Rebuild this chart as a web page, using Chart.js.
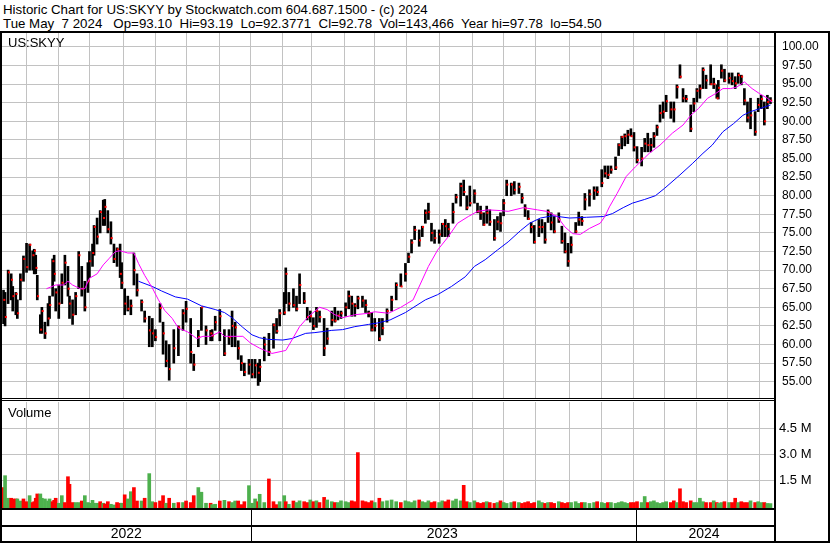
<!DOCTYPE html>
<html><head><meta charset="utf-8">
<script src="https://cdn.jsdelivr.net/npm/chart.js@4.4.1/dist/chart.umd.min.js"></script>
<style>
html,body{margin:0;padding:0;background:#fff;}
body{width:830px;height:543px;position:relative;overflow:hidden;font-family:"Liberation Sans",Arial,sans-serif;}
.hdr{position:absolute;left:3px;font-size:13.3px;color:#000;white-space:pre;line-height:14px;}
.ln{position:absolute;background:#000;}
.tag{position:absolute;font-size:13px;color:#000;white-space:pre;}
.wrap{position:absolute;left:0;width:830px;}
</style></head><body>
<div class="hdr" style="top:3px">Historic Chart for US:SKYY by Stockwatch.com 604.687.1500 - (c) 2024</div>
<div class="hdr" style="top:17px">Tue May  7 2024   Op=93.10  Hi=93.19  Lo=92.3771  Cl=92.78  Vol=143,466  Year hi=97.78  lo=54.50</div>
<div class="wrap" style="top:33px;height:365px"><canvas id="pc"></canvas></div>
<div class="wrap" style="top:402px;height:141px"><canvas id="vc"></canvas></div>
<div class="tag" style="left:8px;top:35px">US:SKYY</div>
<div class="tag" style="left:8px;top:405px">Volume</div>
<div class="ln" style="left:0;top:31px;width:830px;height:2px"></div>
<div class="ln" style="left:0;top:31px;width:2px;height:512px"></div>
<div class="ln" style="left:774px;top:31px;width:2px;height:512px"></div>
<div class="ln" style="left:828px;top:31px;width:2px;height:512px"></div>
<div class="ln" style="left:0;top:398px;width:776px;height:1px"></div>
<div class="ln" style="left:0;top:400px;width:776px;height:1px"></div>
<div class="ln" style="left:0;top:508px;width:776px;height:2px"></div>
<div class="ln" style="left:0;top:525px;width:776px;height:2px"></div>
<div class="ln" style="left:0;top:541px;width:830px;height:2px"></div>
<div class="ln" style="left:251px;top:510px;width:1px;height:31px"></div>
<div class="ln" style="left:636px;top:510px;width:1px;height:31px"></div>
<script>
// ---- data (x = trading-day number from chart start) ----
const days = [1,2,4,6,7,9,10,12,14,16,18,20,21,22,23,25,26,28,30,31,33,34,35,37,39,41,43,44,46,48,50,52,54,56,57,59,60,62,64,66,67,69,71,73,75,77,78,80,82,84,86,88,91,93,96,98,100,103,105,107,109,112,115,118,120,123,125,128,130,133,136,137,139,142,145,148,150,152,154,156,158,161,163,165,167,168,171,174,177,179,181,184,185,187,190,192,194,197,199,201,203,205,207,210,212,215,217,219,221,224,226,228,230,232,235,237,239,241,243,246,248,251,254,257,260,263,265,267,269,272,274,276,278,280,282,285,287,289,291,294,296,299,301,303,305,308,310,312,314,316,318,321,323,325,327,329,332,334,337,339,341,343,345,347,350,352,354,356,358,360,363,365,367,369,371,374,376,378,380,383,386,388,391,393,395,397,400,402,404,406,408,410,412,414,417,419,421,423,425,427,429,431,433,436,438,440,442,444,446,449,451,453,455,457,459,462,464,466,467,469,471,474,476,478,480,482,484,486,488,491,493,495,497,499,501];
const highs = [67.3,67.0,70.0,69.5,67.8,67.0,66.0,69.5,71.9,73.6,73.5,72.6,72.8,72.0,69.3,64.0,65.0,63.0,65.5,66.5,71.5,72.0,67.5,68.0,69.5,72.0,70.5,66.5,66.0,67.0,72.5,70.5,68.5,71.0,72.5,73.5,76.0,77.0,78.0,79.4,79.5,78.0,76.5,73.5,73.0,73.5,71.0,67.5,66.5,66.0,72.3,69.5,66.0,64.5,63.8,63.5,62.0,65.5,63.0,60.5,60.0,62.0,62.5,64.7,65.8,63.5,58.7,61.9,65.0,62.5,61.9,62.0,63.8,64.7,62.0,62.0,64.5,63.0,60.5,58.5,57.5,58.0,58.0,58.0,57.5,58.0,61.0,61.5,62.8,63.5,64.7,67.0,70.3,67.0,67.5,66.5,69.5,67.0,65.0,64.5,63.6,65.0,64.5,63.5,62.2,64.5,65.0,64.5,64.5,65.6,67.2,66.5,65.5,66.5,66.5,66.0,64.5,64.3,63.5,63.5,63.5,64.8,66.5,68.3,69.5,70.9,72.3,74.1,75.9,75.4,75.9,78.1,79.0,76.3,75.4,75.4,76.3,76.8,76.3,79.0,80.2,81.7,82.1,80.0,81.3,80.8,79.0,78.6,77.7,78.6,78.1,76.8,77.2,77.7,79.5,82.1,81.7,81.9,81.7,80.3,78.8,78.0,76.4,76.0,76.8,76.8,76.4,78.1,77.7,77.2,77.7,75.9,75.0,73.6,74.5,76.4,77.8,77.2,80.3,80.8,81.2,81.2,83.5,84.0,84.0,84.0,85.2,87.0,88.0,88.3,88.8,89.0,88.5,86.6,86.5,87.7,88.4,87.7,88.5,89.5,92.2,92.6,93.5,92.6,92.6,94.9,97.6,94.4,93.5,92.2,93.1,94.4,94.9,97.2,96.2,97.6,95.8,94.9,95.5,97.6,97.0,96.5,96.5,96.0,96.5,96.2,94.4,92.6,93.1,91.3,93.1,93.5,92.6,93.5,93.19];
const lows = [62.8,62.5,65.5,66.0,64.5,64.0,63.5,66.0,68.5,69.7,70.0,70.0,69.5,69.5,66.0,61.5,61.5,60.8,62.5,63.5,66.5,68.5,64.5,63.5,65.5,68.0,66.5,63.5,62.7,64.0,67.5,66.5,64.5,67.0,69.0,70.5,72.0,73.5,75.0,76.0,76.0,75.0,73.5,71.0,70.5,69.0,67.5,64.0,64.5,64.0,68.0,66.5,64.5,63.0,59.7,59.7,60.5,63.0,58.7,57.0,55.2,57.5,58.5,61.9,63.0,57.5,56.5,59.7,61.9,60.0,60.5,60.5,61.9,60.5,58.5,60.0,59.7,59.7,58.0,56.5,55.8,56.0,55.5,55.5,54.5,55.0,57.8,58.5,59.5,61.5,62.5,64.0,65.5,64.5,65.0,64.5,65.5,65.5,63.3,63.0,62.0,62.3,63.0,58.5,60.0,62.5,63.0,63.3,63.5,63.8,64.8,63.8,63.8,64.8,65.0,64.3,63.7,61.8,61.8,60.5,61.3,63.0,64.5,66.0,67.8,68.5,71.0,72.3,74.1,73.2,74.5,76.3,76.8,73.9,73.6,73.6,74.5,74.5,74.5,76.3,79.0,78.6,80.0,78.1,78.6,79.0,77.7,76.8,76.0,76.3,76.0,74.0,75.4,75.2,77.3,80.0,80.0,80.2,80.3,79.0,77.2,76.8,75.0,73.6,74.5,75.0,73.6,76.4,75.4,75.0,76.4,73.6,72.3,70.5,72.3,75.0,76.0,76.0,78.1,78.6,79.5,80.0,81.2,82.5,82.3,83.0,83.5,85.4,86.3,86.7,87.0,88.0,86.0,84.4,84.0,85.9,85.9,85.9,86.5,88.1,89.9,90.4,91.3,90.4,89.9,93.1,95.8,92.6,92.6,88.6,91.3,92.6,93.1,94.4,94.4,94.9,94.4,93.1,93.0,95.8,95.3,95.1,94.9,94.4,95.1,94.9,92.2,89.9,89.0,88.1,91.3,91.7,89.5,91.7,92.38];
const closes = [66.0,63.7,69.7,68.7,66.5,66.8,64.2,68.7,71.5,70.4,73.4,72.0,72.6,70.3,66.5,62.0,64.5,61.5,63.5,65.3,71.2,69.5,67.0,65.5,68.3,71.0,67.5,65.5,64.0,66.5,72.0,67.5,65.0,68.5,71.2,72.3,75.8,74.5,77.8,77.0,78.5,75.5,74.3,71.5,72.8,69.5,68.3,65.5,64.8,65.2,70.0,67.3,65.7,63.5,61.9,61.5,61.0,64.9,61.5,57.8,56.7,59.5,62.3,64.2,64.8,59.0,57.3,61.0,65.0,61.9,61.5,61.2,63.0,63.8,58.8,61.0,62.5,62.3,59.5,57.5,56.3,57.3,56.0,57.2,56.2,57.0,60.0,59.0,62.6,61.8,64.2,64.3,69.5,65.5,65.3,64.8,68.0,65.8,63.7,63.8,62.5,64.5,63.7,59.5,60.8,63.3,63.2,63.9,64.2,65.0,66.5,65.5,65.2,66.2,65.9,65.3,64.2,62.0,62.5,60.8,62.2,64.5,66.0,68.0,67.8,69.5,71.8,73.7,75.4,74.0,75.8,77.7,77.8,75.0,74.3,74.8,76.2,75.9,75.5,77.8,79.8,81.3,80.5,78.4,79.0,80.3,77.9,77.7,76.1,77.7,76.5,74.3,76.5,76.3,79.0,81.5,81.5,80.8,81.2,79.7,78.3,76.9,75.8,73.8,75.8,75.8,74.1,77.8,76.4,75.2,76.8,73.9,72.5,71.2,73.4,75.2,76.8,76.6,79.5,80.2,80.7,80.5,81.7,83.0,82.8,83.5,83.8,86.8,87.9,88.0,88.2,88.0,86.5,84.8,85.0,87.0,86.8,86.8,88.0,89.2,91.1,91.3,92.7,91.6,91.6,94.6,96.0,93.1,93.0,89.0,92.4,94.1,94.4,96.9,95.5,95.0,95.0,93.1,94.5,96.8,95.5,95.8,95.4,95.1,96.2,96.0,92.8,90.5,90.8,88.6,92.2,93.0,90.0,92.6,92.78];
// volume in millions of shares, and its bar colour as read (g = up day, r = down day)
const volumes = [1.07,1.76,0.45,0.45,0.41,0.41,0.41,0.29,0.41,0.25,0.6,0.2,0.25,0.45,0.7,0.7,0.45,0.41,0.29,0.41,0.25,0.33,0.45,0.16,0.6,0.2,1.7,1.26,0.2,0.2,0.2,0.29,0.6,0.2,0.16,0.33,0.16,0.16,0.25,0.16,0.12,0.25,0.1,0.06,0.2,0.16,0.16,0.65,0.41,0.83,1.07,0.29,0.29,0.45,1.88,0.25,0.2,0.29,0.6,0.16,0.45,0.16,0.2,0.2,0.29,0.2,0.6,1.07,0.8,0.16,0.16,0.08,0.1,0.29,0.33,0.25,0.2,0.29,0.29,0.08,0.25,1.18,0.16,0.41,0.25,0.68,0.2,1.57,0.25,0.08,0.25,0.6,0.25,0.1,0.29,0.2,0.3,0.25,0.2,0.35,0.25,0.3,0.2,0.5,0.35,0.25,0.2,0.2,0.3,0.25,0.2,0.3,0.25,3.1,0.3,0.25,0.2,0.3,0.2,0.45,0.25,0.3,0.35,0.25,0.2,0.3,0.25,0.2,0.3,0.35,0.25,0.2,0.3,0.2,0.25,0.2,0.3,0.25,0.35,0.3,0.4,0.3,1.2,0.25,0.2,0.3,0.2,0.15,0.2,0.25,0.2,0.15,0.2,0.3,0.2,0.15,0.2,0.25,0.2,0.15,0.2,0.25,0.15,0.2,0.3,0.2,0.15,0.2,0.2,0.15,0.25,0.2,0.15,0.2,0.2,0.25,0.15,0.2,0.2,0.15,0.2,0.25,0.2,0.15,0.2,0.2,0.15,0.2,0.25,0.2,0.15,0.2,0.2,0.25,0.2,0.55,0.2,0.25,0.3,0.2,0.15,0.2,0.25,0.2,0.3,0.2,1.0,0.25,0.2,0.3,0.2,0.2,0.45,0.25,0.2,0.2,0.3,0.2,0.15,0.2,0.25,0.2,0.2,0.45,0.2,0.25,0.2,0.2,0.3,0.2,0.25,0.2,0.2,0.15,0.14];
const volDir = ('rggrrrggrrgrrrrgggggrrrggrrrrggrggggggrgrrggrrgrggrrgrggrrrgrgrgrrrgggrggrgrggrrrgggrggrrrggrgrg' +
  'grrgrgrrggrggggrrrrrrr' + 'grggggrggg' + 'grgggrrggr' + 'rgggrrggrr' + 'rgrrgrgggr' + 'grrrrrggrg' +
  'rrgrrrgggr' + 'gggrggrggg' + 'gggrrrggrg' + 'gggggrrgrr' + 'rrggggrrgr' + 'ggrgrrgrrr' + 'grggrgg').split('');
// moving averages [day, value]
const maFastDays = [29,35,40,43,46,51,54,57,62,66,70,74,77,82,86,89,93,98,102,106,111,115,121,127,131,136,142,145,157,162,168,176,185,189,194,200,207,212,217,222,230,239,243,252,260,268,278,284,291,297,304,310,317,325,330,340,349,355,362,367,372,377,383,390,393,396,401,407,413,419,422,429,437,444,449,454,460,465,470,475,479,484,489,494,499,502];
const maFastVals = [67.5,68.0,68.0,68.5,68.0,67.5,67.5,68.9,69.5,70.7,71.6,72.5,72.6,72.3,72.3,70.9,69.3,67.6,66.0,64.6,63.5,62.2,61.7,60.8,61.1,61.1,61.7,61.1,61.1,60.2,59.5,58.8,59.2,60.6,62.4,63.8,65.0,64.7,64.0,63.6,64.0,64.2,64.4,64.2,65.0,66.0,70.5,72.7,74.5,76.3,77.2,77.9,78.1,78.0,77.9,78.4,78.1,77.9,77.2,75.8,74.9,74.8,75.6,76.3,77.2,78.5,80.3,82.6,83.9,85.1,85.7,86.8,88.4,89.5,90.8,91.7,93.1,93.7,94.4,94.4,94.6,95.3,94.4,93.7,93.1,92.6];
const maSlowDays = [89,98,104,113,121,130,139,145,150,157,163,168,173,183,189,198,204,215,222,230,239,245,253,263,276,284,293,302,308,315,323,330,338,344,351,359,370,381,392,398,405,411,419,426,432,442,450,457,463,470,477,483,488,494,501];
const maSlowVals = [68.5,67.8,67.2,66.4,66.1,65.2,64.7,64.3,63.6,62.3,61.3,60.9,60.7,60.6,60.8,61.5,61.6,61.9,62.0,62.4,62.7,62.9,63.3,64.3,66.0,66.7,67.8,69.1,70.5,71.4,72.7,73.8,75.3,76.3,77.0,77.3,77.0,77.1,77.2,77.6,78.4,79.0,79.5,80.0,81.0,82.8,84.3,85.7,86.8,88.6,89.7,90.8,91.3,91.7,92.2];
// axes
const priceTicks = [55,57.5,60,62.5,65,67.5,70,72.5,75,77.5,80,82.5,85,87.5,90,92.5,95,97.5,100];
const volTicks = [1.5,3.0,4.5];
const monthStarts = [16,37,57,79,100,120,142,162,183,202,223,243,264,285,307,327,348,370,391,412,432,453,473,494];
const years = ['2022','2023','2024'];
const yearStarts = [0,162,412];
const lastDay = 503.3;

const FONT = "'Liberation Sans', Arial, sans-serif";
Chart.defaults.font.family = FONT;
const GRID = '#c2c2c2';
const DIRCOL = {g:'#4db04d', r:'#ff0000', n:'#a0a0a0'};

function noPadX(h){ return s => { s.height = h; s.paddingLeft = 0; s.paddingRight = 0; }; }
function noPadY(s){ s.width = 56; s.paddingTop = 0; s.paddingBottom = 0; }
// x grid axis: month-start gridlines via the library's own grid
const xOpts = () => ({type:'linear', min:0, max:lastDay, position:'bottom', offset:false,
  afterBuildTicks: s=>{ s.ticks = monthStarts.map(v=>({value:v})); },
  afterFit: noPadX(0),
  ticks:{display:false},
  grid:{display:true, drawOnChartArea:true, drawTicks:false, offset:false, color:GRID, lineWidth:1},
  border:{display:false}});

new Chart(document.getElementById('pc'), {
  type:'bar',
  data:{datasets:[
    {type:'line', data: maFastDays.map((d,i)=>({x:d,y:maFastVals[i]})), borderColor:'#ff00ff', borderWidth:1, pointRadius:0, pointHoverRadius:0, tension:0, order:0},
    {type:'line', data: maSlowDays.map((d,i)=>({x:d,y:maSlowVals[i]})), borderColor:'#0000ff', borderWidth:1, pointRadius:0, pointHoverRadius:0, tension:0, order:0},
    {type:'line', showLine:false, data: days.map((d,i)=>({x:d+0.5,y:closes[i]})), pointStyle:'rect', pointRadius:1.42, pointHoverRadius:0, pointBorderWidth:0, pointBackgroundColor:'#ff0000', order:1},
    {type:'bar', data: days.map((d,i)=>({x:d,y:[lows[i],highs[i]]})), backgroundColor:'#000', barThickness:2, grouped:false, order:2}
  ]},
  options:{
    animation:false, responsive:true, maintainAspectRatio:false,
    layout:{autoPadding:false, padding:{left:2,right:0,top:0,bottom:0}},
    plugins:{legend:{display:false}, tooltip:{enabled:false}},
    scales:{
      x: xOpts(),
      y:{position:'right', min:52.81, max:101.87,
        afterBuildTicks: s=>{ s.ticks = priceTicks.map(v=>({value:v})); },
        afterFit: noPadY,
        ticks:{color:'#000', font:{size:12}, padding:8, callback:v=>Number(v).toFixed(2)},
        grid:{display:true, drawOnChartArea:true, drawTicks:false, color:GRID, lineWidth:1}, border:{display:false}}
    }
  }
});

new Chart(document.getElementById('vc'), {
  type:'bar',
  data:{datasets:[
    {type:'bar', data: days.map((d,i)=>({x:d,y:volumes[i]})), backgroundColor: volDir.map(c=>DIRCOL[c] || DIRCOL.n), barThickness:3, grouped:false, base:-0.116}
  ]},
  options:{
    animation:false, responsive:true, maintainAspectRatio:false,
    layout:{autoPadding:false, padding:{left:2,right:0,top:0,bottom:0}},
    plugins:{legend:{display:false}, tooltip:{enabled:false}},
    scales:{
      x: xOpts(),
      yr:{type:'linear', min:0, max:lastDay, position:'bottom', offset:false,
        afterBuildTicks: s=>{ s.ticks = yearStarts.map((v,i)=>({value:(v+(yearStarts[i+1]??lastDay))/2})); },
        afterFit: noPadX(35),
        ticks:{color:'#000', font:{size:14}, padding:18, maxRotation:0, autoSkip:false, callback:(v,i)=>years[i]},
        grid:{display:false, drawTicks:false, offset:false}, border:{display:false}},
      y:{position:'right', min:-0.116, max:6.036,
        afterBuildTicks: s=>{ s.ticks = volTicks.map(v=>({value:v})); },
        afterFit: noPadY,
        ticks:{color:'#000', font:{size:13}, padding:5, callback:v=>Number(v).toFixed(1)+' M'},
        grid:{display:true, drawOnChartArea:true, drawTicks:false, color:GRID, lineWidth:1}, border:{display:false}}
    }
  }
});
</script>
</body></html>
